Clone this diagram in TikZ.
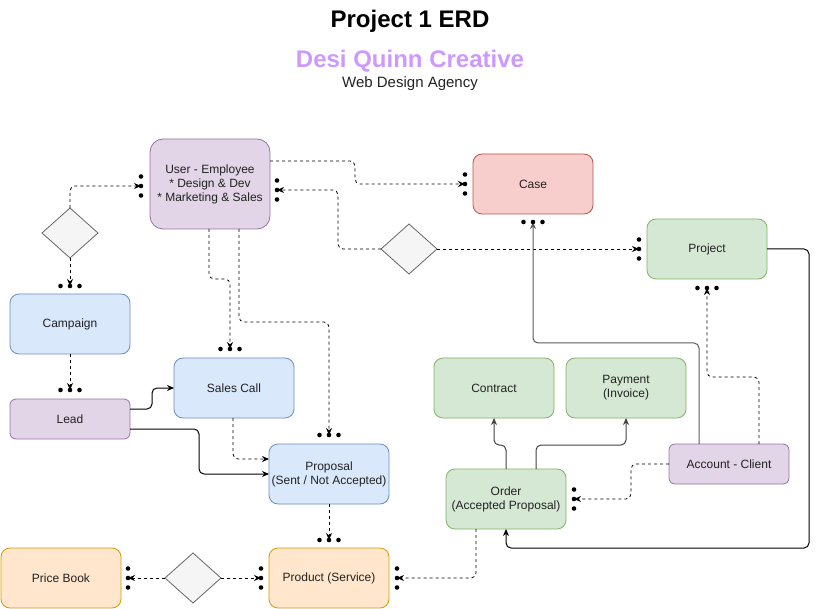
\documentclass[tikz,border=0pt]{standalone}
\usepackage{fontspec}
\setmainfont{Liberation Sans}
\usetikzlibrary{shapes.geometric,arrows.meta,calc}
\definecolor{pF}{HTML}{E1D5E7}\definecolor{pD}{HTML}{9673A6}
\definecolor{bF}{HTML}{DAE8FC}\definecolor{bD}{HTML}{6C8EBF}
\definecolor{gF}{HTML}{D5E8D4}\definecolor{gD}{HTML}{82B366}
\definecolor{rF}{HTML}{F8CECC}\definecolor{rD}{HTML}{B85450}
\definecolor{oF}{HTML}{FFE6CC}\definecolor{oD}{HTML}{D79B00}
\definecolor{dF}{HTML}{F5F5F5}\definecolor{dD}{HTML}{666666}
\definecolor{ttl}{HTML}{CC99FF}
\definecolor{txt}{HTML}{222222}
\begin{document}
\begin{tikzpicture}[x=1pt,y=-1pt,
  ent/.style={draw, rounded corners=9pt, minimum width=120pt, minimum height=60pt,
    inner sep=2pt, outer sep=0pt, align=center, text=txt,
    font=\fontsize{12}{14}\selectfont, line width=0.8pt},
  ent40/.style={ent, minimum height=40pt, rounded corners=6pt},
  purp/.style={fill=pF, draw=pD},
  blu/.style={fill=bF, draw=bD},
  grn/.style={fill=gF, draw=gD},
  rd/.style={fill=rF, draw=rD},
  org/.style={fill=oF, draw=oD},
  dia/.style={shape=diamond, draw=dD, fill=dF, minimum width=56pt, minimum height=50pt,
    inner sep=0pt, outer sep=0pt, line width=0.8pt},
  dl/.style={draw, dash pattern=on 3pt off 3pt, line width=0.8pt, rounded corners=5pt},
  sl/.style={draw, line width=1pt, rounded corners=5pt},
  tip/.style={-{Stealth[length=7pt,width=6pt]}},
  dotsv/.pic={\fill (0,-9.5) circle[radius=2.3pt] (0,0) circle[radius=2.3pt] (0,9.5) circle[radius=2.3pt];},
  dotsh/.pic={\fill (-9.5,0) circle[radius=2.3pt] (0,0) circle[radius=2.3pt] (9.5,0) circle[radius=2.3pt];}
]
\useasboundingbox (0,0) rectangle (819,609);

% titles
\node[font=\fontsize{24}{28}\selectfont\bfseries] (t1) at (410,21) {Project 1 ERD};
\node[font=\fontsize{24}{28}\selectfont\bfseries, text=ttl] (t2) at (410,61) {Desi Quinn Creative};
\node[font=\fontsize{15}{18}\selectfont, text=txt] (t3) at (410,84) {Web Design Agency};

% entities
\node[ent, purp, minimum height=90pt, rounded corners=13pt] (user) at (210,184)
  {User - Employee\\* Design \& Dev\\* Marketing \& Sales};
\node[ent, rd] (case) at (533,184) {Case};
\node[ent, grn] (project) at (707,249) {Project};
\node[ent, blu] (campaign) at (70,324) {Campaign};
\node[ent40, purp] (lead) at (70,419) {Lead};
\node[ent, blu] (sales) at (234,388) {Sales Call};
\node[ent, blu] (proposal) at (329,474) {Proposal\\(Sent / Not Accepted)};
\node[ent, grn] (contract) at (494,388) {Contract};
\node[ent, grn] (payment) at (626,388) {Payment\\(Invoice)};
\node[ent40, purp] (account) at (729,464) {Account - Client};
\node[ent, grn] (order) at (506,499) {Order\\(Accepted Proposal)};
\node[ent, org] (pricebook) at (61,578) {Price Book};
\node[ent, org] (product) at (329,578) {Product (Service)};

% diamonds
\node[dia] (d1) at (70,233) {};
\node[dia] (d2) at (409,249) {};
\node[dia] (d3) at (193,578) {};

% marker end points
\coordinate (uL) at (141,186);
\coordinate (uR) at (277,190);
\coordinate (cL) at (465,184);
\coordinate (cB) at (533,222);
\coordinate (pjL) at (639,249);
\coordinate (pjB) at (707,288);
\coordinate (cpT) at (70,286);
\coordinate (ldT) at (70,390);
\coordinate (sT) at (230,349);
\coordinate (pT) at (329,435);
\coordinate (prT) at (329,540);
\coordinate (pbR) at (128,578);
\coordinate (prL) at (261,578);
\coordinate (prR) at (397,578);
\coordinate (oR) at (574,499);

% dashed relations with markers
\draw[dl, tip] (d1.north) |- (uL);
\pic at (uL) {dotsv};
\draw[dl, tip] (d1.south) -- (cpT);
\pic at (cpT) {dotsh};
\draw[dl, tip] (campaign.south) -- (ldT);
\pic at (ldT) {dotsh};
\draw[dl, tip] ([yshift=23pt]user.east) -- (355,161) -- (355,184) -- (cL);
\pic at (cL) {dotsv};
\draw[dl, tip] (d2.west) -- (338,249) -- (338,190) -- (uR);
\pic at (uR) {dotsv};
\draw[dl, tip] (d2.east) -- (pjL);
\pic at (pjL) {dotsv};
\draw[dl, tip] ([xshift=-1pt]user.south) -- (209,279) -- (230,279) -- (sT);
\pic at (sT) {dotsh};
\draw[dl, tip] ([xshift=29pt]user.south) -- (239,322) -- (329,322) -- (pT);
\pic at (pT) {dotsh};
\draw[dl, tip] (proposal.south) -- (prT);
\pic at (prT) {dotsh};
\draw[dl, tip] (d3.west) -- (pbR);
\pic at (pbR) {dotsv};
\draw[dl, tip] (d3.east) -- (prL);
\pic at (prL) {dotsv};
\draw[dl, tip] ([xshift=-30pt]order.south) -- (476,578) -- (prR);
\pic at (prR) {dotsv};
\draw[dl, tip] (account.west) -- (631,464) -- (631,499) -- (oR);
\pic at (oR) {dotsv};
\draw[dl, tip] ([xshift=30pt]account.north) -- (759,377) -- (707,377) -- (pjB);
\pic at (pjB) {dotsh};
\draw[dl, tip] ([xshift=-1pt]sales.south) -- (233,459) -- ([yshift=15pt]proposal.west);

% solid relations
\draw[sl, tip] ([yshift=10pt]lead.east) -- (152,409) -- (152,388) -- (sales.west);
\draw[sl, tip] ([yshift=-10pt]lead.east) -- (199,429) -- (199,474) -- (proposal.west);
\draw[sl, tip, draw=black!75] (order.north) -- (506,445) -- (494,445) -- (contract.south);
\draw[sl, tip, draw=black!75] ([xshift=30pt]order.north) -- (536,445) -- (626,445) -- (payment.south);
\draw[sl, tip, draw=black!65] ([xshift=-30pt]account.north) -- (699,343) -- (533,343) -- (cB);
\pic at (cB) {dotsh};
\draw[sl, tip] (project.east) -- (809,249) -- (809,548) -- (506,548) -- (order.south);
\end{tikzpicture}
\end{document}
